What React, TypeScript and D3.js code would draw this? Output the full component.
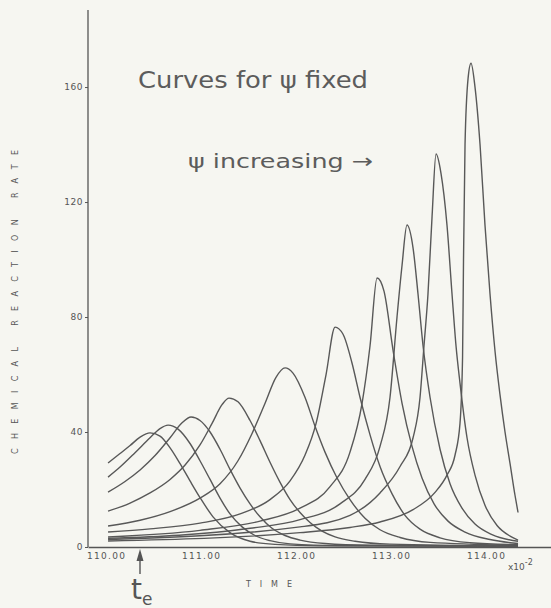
import React, { useRef, useEffect } from 'react';
import * as d3 from 'd3';

// Each curve is [time, rate] pairs (time in units of 10^-2)
const curve1 = [[110.021, 29.2], [110.147, 32.5], [110.253, 35.3], [110.358, 38.2], [110.463, 39.7], [110.568, 38.6], [110.674, 34.5], [110.779, 29], [110.884, 23], [110.989, 17.2], [111.126, 10.5], [111.305, 5], [111.516, 2], [111.779, 0.9], [112.253, 0.4], [114.337, 0.2]];
const curve2 = [[110.021, 24.3], [110.147, 27.8], [110.305, 32.8], [110.463, 38], [110.568, 41.2], [110.653, 42.4], [110.758, 41], [110.884, 36], [110.989, 30], [111.095, 23.5], [111.2, 17], [111.305, 11.5], [111.432, 7], [111.568, 4], [111.726, 2.2], [111.937, 1.1], [112.463, 0.5], [114.337, 0.3]];
const curve3 = [[110.021, 19.1], [110.2, 22.8], [110.358, 26.8], [110.516, 31.8], [110.674, 38], [110.8, 43.2], [110.895, 45.2], [110.989, 44], [111.095, 40], [111.2, 34], [111.305, 27], [111.411, 20.5], [111.516, 15], [111.621, 10.5], [111.747, 6.5], [111.884, 4], [112.042, 2.4], [112.305, 1.2], [112.779, 0.6], [114.337, 0.3]];
const curve4 = [[110.021, 12.5], [110.253, 15.3], [110.463, 18.8], [110.674, 23.5], [110.832, 28.5], [110.989, 35.5], [111.116, 43], [111.221, 49.5], [111.295, 51.8], [111.389, 50.5], [111.516, 44], [111.621, 37], [111.726, 29.5], [111.832, 22.5], [111.937, 16.5], [112.042, 12], [112.147, 8.5], [112.274, 5.5], [112.411, 3.5], [112.621, 2], [112.989, 1], [114.337, 0.4]];
const curve5 = [[110.021, 7.3], [110.358, 9.3], [110.674, 12.3], [110.989, 17], [111.2, 22], [111.389, 30], [111.537, 39.5], [111.674, 50], [111.789, 59], [111.884, 62.3], [111.968, 60.5], [112.095, 52], [112.2, 42], [112.305, 33], [112.432, 24], [112.568, 16.5], [112.726, 10], [112.884, 6], [113.095, 3.3], [113.411, 1.6], [114.337, 0.6]];
const curve6 = [[110.021, 5.2], [110.463, 6.3], [110.989, 8.3], [111.411, 11.5], [111.726, 16.5], [111.937, 23], [112.095, 32], [112.211, 43], [112.316, 60], [112.411, 76.5], [112.495, 74], [112.589, 64], [112.674, 52], [112.779, 39], [112.884, 28], [113.011, 18.5], [113.147, 11], [113.305, 6.2], [113.516, 3.2], [113.832, 1.5], [114.337, 0.8]];
const curve7 = [[110.021, 3.5], [110.989, 5.8], [111.621, 9], [112.042, 13.5], [112.358, 21], [112.568, 33], [112.695, 50], [112.779, 70], [112.853, 93.6], [112.926, 89], [113.021, 68.5], [113.116, 50], [113.221, 35], [113.326, 24], [113.453, 15], [113.6, 9], [113.779, 5.2], [114.042, 2.6], [114.337, 1.2]];
const curve8 = [[110.021, 3], [111.516, 6.5], [112.042, 9.5], [112.463, 15], [112.726, 23.5], [112.884, 35], [112.989, 52], [113.063, 80], [113.116, 98], [113.168, 112], [113.232, 104], [113.284, 88], [113.337, 70], [113.411, 52], [113.516, 34], [113.621, 22], [113.747, 13.5], [113.884, 8], [114.063, 4.3], [114.337, 2]];
const curve9 = [[110.021, 2.6], [112.042, 7], [112.568, 11], [112.884, 18.8], [113.095, 28], [113.232, 38], [113.305, 52], [113.347, 70], [113.389, 88], [113.432, 115], [113.474, 136.7], [113.526, 130], [113.589, 112], [113.642, 88], [113.684, 70], [113.726, 57], [113.8, 38], [113.884, 25], [113.989, 14.5], [114.116, 7.5], [114.253, 3.8], [114.337, 2.4]];
const curve10 = [[110.021, 2.1], [112.042, 5], [112.568, 6.8], [112.884, 8.7], [113.232, 13], [113.463, 19], [113.589, 25], [113.674, 32], [113.726, 43], [113.753, 66], [113.763, 100], [113.779, 140], [113.811, 163], [113.842, 168.3], [113.884, 160], [113.937, 140], [113.989, 112], [114.042, 88], [114.095, 68], [114.147, 53], [114.2, 40], [114.253, 29], [114.305, 18], [114.337, 12]];

const curves = [curve1, curve2, curve3, curve4, curve5, curve6, curve7, curve8, curve9, curve10];

const yTicks = [0, 40, 80, 120, 160];
const xTicks = [110, 111, 112, 113, 114];

const WIDTH = 551;
const HEIGHT = 608;
const INK = '#555';

const App = () => {
  const svgRef = useRef(null);

  useEffect(() => {
    const svg = d3.select(svgRef.current);
    svg.selectAll('*').remove();

    const x = d3.scaleLinear().domain([109.81, 114.684]).range([88, 551]);
    const y = d3.scaleLinear().domain([0, 186.8]).range([547, 10]);

    svg.append('rect').attr('width', WIDTH).attr('height', HEIGHT).attr('fill', '#f6f6f1');

    // axes
    const yAxis = svg.append('g')
      .attr('transform', 'translate(88,0)')
      .call(d3.axisLeft(y).tickValues(yTicks).tickSize(3).tickPadding(2).tickFormat(d3.format('d')));
    yAxis.select('.domain').attr('stroke', INK).attr('stroke-width', 1.3).attr('d', 'M0,547V10');
    yAxis.selectAll('.tick line').attr('stroke', INK);
    yAxis.selectAll('.tick text')
      .attr('fill', INK)
      .attr('font-family', 'DejaVu Sans')
      .attr('font-size', 9)
      .attr('letter-spacing', 0.5);

    const xAxis = svg.append('g')
      .attr('transform', 'translate(0,547)')
      .call(d3.axisBottom(x).tickValues(xTicks).tickSize(0).tickPadding(6).tickFormat(d3.format('.2f')));
    xAxis.select('.domain').attr('stroke', INK).attr('stroke-width', 1.3);
    xAxis.selectAll('.tick text')
      .attr('fill', INK)
      .attr('font-family', 'DejaVu Sans')
      .attr('font-size', 9)
      .attr('letter-spacing', 1.3);

    // curves
    const line = d3.line()
      .x(d => x(d[0]))
      .y(d => y(d[1]))
      .curve(d3.curveMonotoneX);

    svg.append('g')
      .selectAll('path')
      .data(curves)
      .enter()
      .append('path')
      .attr('d', d => line(d))
      .attr('fill', 'none')
      .attr('stroke', '#585858')
      .attr('stroke-width', 1.4);

    // axis titles
    svg.append('text')
      .attr('transform', 'translate(18,302) rotate(-90)')
      .attr('text-anchor', 'middle')
      .attr('font-family', 'DejaVu Sans')
      .attr('font-size', 8)
      .attr('fill', INK)
      .attr('textLength', 304)
      .attr('lengthAdjust', 'spacing')
      .text('CHEMICAL REACTION RATE');

    svg.append('text')
      .attr('x', 246)
      .attr('y', 587)
      .attr('font-family', 'DejaVu Sans')
      .attr('font-size', 8)
      .attr('fill', INK)
      .attr('textLength', 46)
      .attr('lengthAdjust', 'spacing')
      .text('TIME');

    const exp = svg.append('text')
      .attr('x', 508)
      .attr('y', 570)
      .attr('font-family', 'DejaVu Sans')
      .attr('font-size', 9)
      .attr('fill', INK);
    exp.append('tspan').text('x10');
    exp.append('tspan').attr('dy', -5).attr('font-size', 8).text('-2');

    // handwritten notes
    svg.append('text')
      .attr('x', 138)
      .attr('y', 88)
      .attr('font-family', 'DejaVu Sans')
      .attr('font-size', 23)
      .attr('fill', '#5c5c5c')
      .attr('textLength', 230)
      .attr('lengthAdjust', 'spacingAndGlyphs')
      .text('Curves for ψ fixed');

    svg.append('text')
      .attr('x', 188)
      .attr('y', 168)
      .attr('font-family', 'DejaVu Sans')
      .attr('font-size', 20)
      .attr('fill', '#5c5c5c')
      .attr('textLength', 185)
      .attr('lengthAdjust', 'spacingAndGlyphs')
      .text('ψ increasing →');

    // t_e marker
    svg.append('line')
      .attr('x1', 140).attr('x2', 140)
      .attr('y1', 556).attr('y2', 574)
      .attr('stroke', INK).attr('stroke-width', 1.4);
    svg.append('path')
      .attr('d', 'M136.5,561L140,549L143.5,561Z')
      .attr('fill', INK);
    const te = svg.append('text')
      .attr('x', 131)
      .attr('y', 599)
      .attr('font-family', 'DejaVu Sans')
      .attr('font-size', 28)
      .attr('fill', '#555');
    te.append('tspan').text('t');
    te.append('tspan').attr('dy', 6).attr('font-size', 17).text('e');
  }, []);

  return (
    <svg
      ref={svgRef}
      width={WIDTH}
      height={HEIGHT}
      style={{ position: 'absolute', left: 0, top: 0 }}
    />
  );
};

export default App;
